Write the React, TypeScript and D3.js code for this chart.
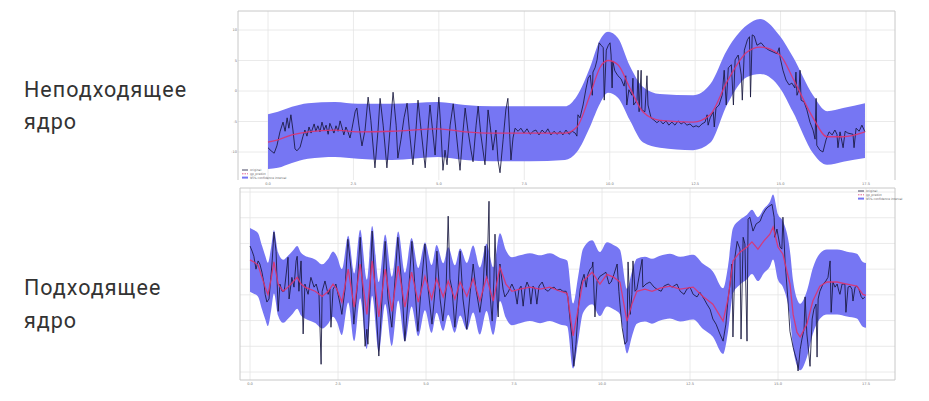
import React from 'react';
import * as d3 from 'd3';

// ---------- shared axis data ----------
const xTicks = [0, 2.5, 5, 7.5, 10, 12.5, 15, 17.5];
const xTickLabels = ['0.0', '2.5', '5.0', '7.5', '10.0', '12.5', '15.0', '17.5'];
const topYTicks = [10, 5, 0, -5, -10];
const bottomYTicks = [15, 10, 5, 0, -5, -10, -15, -20];
const legendLabels = ['original', 'gp_predict', '95% confidence interval'];
const topTitle = ['Неподходящее', 'ядро'];
const bottomTitle = ['Подходящее', 'ядро'];

// ---------- top panel (unsuitable kernel) ----------
const topGpX = [0, 0.29, 0.7, 1.17, 1.96, 2.63, 3.63, 4.98, 5.77, 6.56, 7.67, 8.69, 9.04, 9.42, 9.72, 9.95, 10.24, 10.59, 10.97, 11.47, 12.44, 12.94, 13.43, 14.02, 14.4, 14.98, 15.36, 15.95, 16.36, 16.83, 17.47];
const topMean = [-8.4, -8.0, -7.2, -6.7, -6.4, -6.7, -6.6, -6.2, -6.7, -6.9, -6.9, -6.9, -5.9, -0.7, 3.9, 5.0, 4.3, 0.5, -3.4, -4.8, -5.1, -3.9, 1.5, 6.4, 7.2, 5.9, 2.1, -4.4, -7.5, -7.5, -6.7];
const topUpper = [-3.8, -3.4, -2.6, -2.0, -1.8, -2.1, -2.1, -1.8, -2.3, -2.5, -2.5, -2.5, -0.8, 3.8, 8.4, 9.7, 8.7, 4.1, 0.7, -0.5, -0.7, 1.1, 6.7, 10.8, 11.8, 9.0, 5.6, -0.7, -3.3, -2.8, -2.0];
const topLower = [-12.8, -12.6, -11.8, -11.1, -10.8, -11.1, -11.3, -10.8, -11.3, -11.5, -11.5, -11.3, -10.0, -5.9, -2.0, -0.3, -1.1, -4.8, -8.4, -9.3, -9.7, -8.5, -2.3, 2.3, 2.8, 0.5, -3.4, -10.2, -12.1, -11.6, -11.0];

const topOrigX = [
  0, 0.09, 0.18, 0.26, 0.35, 0.44, 0.5, 0.56, 0.61, 0.67, 0.73, 0.79, 0.85, 0.94, 1.02, 1.08, 1.14, 1.2, 1.26, 1.35,
  1.4, 1.46, 1.52, 1.58, 1.64, 1.7, 1.76, 1.81, 1.87, 1.93, 1.99, 2.05, 2.11, 2.17, 2.22, 2.28, 2.34, 2.4, 2.46, 2.55,
  2.6, 2.66, 2.75, 2.84, 2.93, 3.01, 3.13, 3.22, 3.28, 3.37, 3.48, 3.57, 3.66, 3.75, 3.8, 3.89, 3.98, 4.07, 4.15, 4.24,
  4.33, 4.39, 4.48, 4.6, 4.68, 4.74, 4.83, 4.89, 4.95, 5.0, 5.06, 5.12, 5.18, 5.24, 5.33, 5.42, 5.5, 5.62, 5.71, 5.77,
  5.85, 5.94, 6.0, 6.09, 6.15, 6.23, 6.35, 6.44, 6.5, 6.58, 6.67, 6.73, 6.79, 6.88, 6.96, 7.02, 7.08, 7.11, 7.17, 7.23,
  7.32, 7.4, 7.49, 7.58, 7.67, 7.76, 7.84, 7.93, 8.02, 8.11, 8.19, 8.28, 8.37, 8.46, 8.55, 8.63, 8.72, 8.81, 8.9, 8.99,
  9.04, 9.07, 9.13, 9.22, 9.31, 9.37, 9.43, 9.49, 9.51, 9.57, 9.63, 9.69, 9.75, 9.81, 9.84, 9.9, 9.96, 10.01, 10.04, 10.07,
  10.09, 10.15, 10.24, 10.33, 10.42, 10.47, 10.5, 10.56, 10.65, 10.68, 10.7, 10.8, 10.83, 10.86, 10.92, 10.94, 11.03, 11.09, 11.12, 11.21,
  11.3, 11.38, 11.47, 11.56, 11.65, 11.73, 11.82, 11.91, 12.0, 12.09, 12.17, 12.26, 12.35, 12.44, 12.53, 12.61, 12.7, 12.79, 12.85, 12.88,
  12.94, 13.03, 13.06, 13.11, 13.2, 13.29, 13.35, 13.41, 13.47, 13.56, 13.62, 13.67, 13.76, 13.85, 13.88, 13.94, 14.03, 14.09, 14.12, 14.17,
  14.23, 14.31, 14.43, 14.55, 14.66, 14.78, 14.9, 14.96, 14.99, 15.07, 15.16, 15.25, 15.33, 15.42, 15.45, 15.48, 15.54, 15.57, 15.6, 15.69,
  15.77, 15.86, 15.95, 16.01, 16.04, 16.06, 16.15, 16.24, 16.33, 16.42, 16.51, 16.59, 16.65, 16.68, 16.74, 16.83, 16.89, 16.97, 17.12, 17.15,
  17.21, 17.3, 17.38, 17.47,
];
const topOrigY = [
  -9.3, -9.8, -10.2, -9.0, -6.7, -5.1, -6.6, -4.4, -6.1, -3.9, -6.4, -9.5, -9.8, -9.2, -7.5, -6.4, -7.4, -5.9, -6.9, -5.4,
  -6.6, -5.7, -6.7, -5.1, -6.4, -5.6, -7.1, -5.3, -6.1, -6.9, -5.7, -6.6, -4.9, -6.1, -7.2, -5.9, -6.7, -7.7, -6.1, -3.4,
  -2.8, -5.6, -9.0, -6.4, -1.0, -4.8, -12.6, -6.4, -1.2, -5.6, -12.6, -6.4, -0.2, -5.6, -11.0, -8.0, -4.4, -2.0, -7.2, -12.1,
  -6.4, -1.5, -6.4, -12.6, -6.4, -2.3, -7.2, -10.5, -4.8, -1.0, -6.4, -13.0, -9.7, -12.1, -5.6, -2.1, -6.4, -13.0, -6.4, -2.8,
  -6.4, -9.7, -11.6, -5.6, -2.5, -7.2, -12.1, -3.1, -5.6, -9.7, -6.4, -11.3, -13.4, -8.0, -3.1, -1.2, -8.0, -11.3, -7.7, -6.1,
  -6.6, -6.1, -6.9, -6.2, -7.1, -6.6, -6.4, -7.2, -6.4, -6.9, -6.2, -7.2, -6.6, -7.1, -6.6, -7.2, -6.4, -7.1, -6.6, -6.9,
  -7.4, -3.9, -4.4, -2.3, 0.5, 2.1, 2.6, -0.7, 3.1, 3.8, 5.1, 7.9, 7.5, 7.1, -1.5, 6.7, 7.5, 7.9, 5.9, 0.5,
  4.9, 3.3, 2.5, 2.0, 0.8, 2.5, -2.3, 0.2, -0.7, 2.1, -2.3, -1.5, 3.4, -3.4, 3.4, -3.1, -3.4, 2.5, -2.3, -4.4,
  -4.8, -5.2, -4.8, -5.4, -4.9, -5.6, -5.1, -5.6, -4.9, -5.4, -5.1, -5.6, -5.4, -5.9, -5.7, -5.9, -5.4, -5.1, -3.9, -5.6,
  -4.4, -3.4, -5.9, -2.8, -2.3, -0.7, 3.4, -2.3, 3.8, 4.3, -2.3, 5.1, 5.9, 2.6, -1.5, 6.7, 8.4, 8.9, -1.0, 9.2,
  9.0, 7.5, 7.9, 7.1, 6.7, 6.4, 6.1, 7.1, 5.4, 3.4, 1.8, 1.0, 1.3, 0.5, 3.1, -0.7, 0.2, 3.4, -1.5, -1.8,
  -3.1, -5.1, -6.4, -7.9, -1.2, -8.9, -9.7, -10.0, -8.0, -6.7, -7.2, -6.4, -7.1, -9.3, -6.7, -9.3, -6.6, -6.9, -7.1, -9.3,
  -6.1, -6.6, -5.6, -6.7,
];

// ---------- bottom panel (suitable kernel) ----------
const botGpX = [0, 0.11, 0.23, 0.34, 0.43, 0.51, 0.6, 0.68, 0.8, 0.94, 1.08, 1.22, 1.34, 1.45, 1.56, 1.7, 1.85, 2.05, 2.22, 2.36,
  2.47, 2.61, 2.79, 2.96, 3.13, 3.32, 3.47, 3.66, 3.84, 4.03, 4.21, 4.4, 4.59, 4.78, 4.97, 5.16, 5.3, 5.49, 5.63, 5.82,
  5.97, 6.16, 6.34, 6.53, 6.72, 6.91, 7.1, 7.27, 7.44, 7.67, 7.95, 8.24, 8.52, 8.81, 9.01, 9.18, 9.32, 9.46, 9.72, 9.94,
  10.14, 10.34, 10.51, 10.71, 10.85, 10.99, 11.22, 11.42, 11.65, 11.93, 12.22, 12.59, 12.87, 13.15, 13.44, 13.58, 13.72, 13.92, 14.12, 14.26,
  14.43, 14.6, 14.77, 14.86, 15.0, 15.14, 15.34, 15.43, 15.54, 15.63, 15.82, 15.99, 16.19, 16.39, 16.68, 16.96, 17.24, 17.41, 17.5];
const botMean = [1.8, 1.4, 0.8, -1.6, -3.5, -4.9, -1.9, 1.4, -2.9, -4.3, -3.5, -2.5, -1.6, -2.9, -3.5, -3.9, -4.3, -5.3, -4.3, -2.9,
  -3.9, -6.4, 0, -7.4, 1.0, -8.8, 1.6, -9.3, 0, -8.2, 0.6, -7.4, -0.6, -6.4, -1.4, -5.8, -1.9, -5.4, -2.3, -5.8,
  -2.5, -5.3, -1.9, -6.2, -1.6, -6.2, 0.4, -2.9, -4.3, -3.9, -3.5, -3.9, -3.5, -4.3, -4.7, -13.0, -7.8, -2.3, -0.6, -2.9,
  -1.0, -1.6, -2.5, -10.1, -6.8, -4.3, -3.9, -4.3, -3.7, -3.3, -3.9, -3.5, -5.3, -6.8, -10.1, -5.8, 1.6, 3.3, 4.3, 5.3,
  3.9, 5.5, 6.8, 8.2, 4.3, 2.9, -2.9, -8.8, -12.3, -13.2, -10.7, -6.2, -3.3, -2.5, -2.5, -2.9, -3.3, -4.9, -5.1];
const botHwX = [0, 1.5, 2.6, 3.5, 5.0, 6.5, 7.3, 8.5, 9.5, 11.0, 12.5, 13.5, 14.5, 15.5, 16.5, 17.5];
const botHw = [6.2, 6.1, 6.4, 6.8, 6.6, 6.5, 6.6, 6.6, 6.2, 6.3, 6.3, 6.4, 6.2, 6.5, 6.3, 6.3];

const botOrigX = [
  0, 0.06, 0.11, 0.17, 0.23, 0.28, 0.34, 0.4, 0.43, 0.48, 0.54, 0.6, 0.63, 0.68, 0.74, 0.8, 0.85, 0.91, 0.97, 0.99,
  1.08, 1.11, 1.19, 1.25, 1.31, 1.34, 1.39, 1.45, 1.51, 1.56, 1.65, 1.73, 1.82, 1.88, 1.96, 2.02, 2.05, 2.13, 2.22, 2.27,
  2.3, 2.36, 2.44, 2.5, 2.56, 2.61, 2.7, 2.78, 2.87, 2.95, 3.04, 3.13, 3.21, 3.27, 3.32, 3.35, 3.41, 3.47, 3.55, 3.66,
  3.75, 3.84, 3.92, 4.03, 4.12, 4.2, 4.32, 4.4, 4.49, 4.6, 4.69, 4.77, 4.86, 4.97, 5.06, 5.17, 5.26, 5.31, 5.4, 5.48,
  5.57, 5.63, 5.68, 5.74, 5.82, 5.91, 5.97, 6.05, 6.16, 6.25, 6.34, 6.42, 6.53, 6.62, 6.68, 6.73, 6.79, 6.82, 6.88, 6.93,
  6.96, 7.02, 7.05, 7.1, 7.19, 7.24, 7.33, 7.44, 7.53, 7.59, 7.64, 7.7, 7.76, 7.81, 7.87, 7.93, 7.98, 8.04, 8.1, 8.15,
  8.21, 8.3, 8.38, 8.47, 8.55, 8.64, 8.72, 8.81, 8.89, 8.98, 9.03, 9.09, 9.15, 9.2, 9.26, 9.32, 9.38, 9.43, 9.49, 9.55,
  9.6, 9.66, 9.72, 9.74, 9.8, 9.86, 9.94, 10.03, 10.11, 10.2, 10.26, 10.34, 10.43, 10.48, 10.51, 10.57, 10.65, 10.71, 10.74, 10.8,
  10.85, 10.88, 10.94, 10.99, 11.14, 11.16, 11.25, 11.36, 11.48, 11.56, 11.68, 11.76, 11.88, 11.99, 12.13, 12.22, 12.33, 12.41, 12.5, 12.59,
  12.7, 12.78, 12.9, 12.98, 13.07, 13.15, 13.24, 13.35, 13.44, 13.52, 13.58, 13.64, 13.69, 13.72, 13.78, 13.84, 13.92, 13.95, 14.01, 14.06,
  14.12, 14.15, 14.2, 14.29, 14.38, 14.49, 14.57, 14.66, 14.72, 14.83, 14.89, 14.91, 14.97, 15.06, 15.11, 15.14, 15.2, 15.28, 15.34, 15.43,
  15.48, 15.54, 15.57, 15.63, 15.68, 15.74, 15.77, 15.82, 15.85, 15.91, 15.97, 16.02, 16.08, 16.11, 16.14, 16.19, 16.28, 16.36, 16.42, 16.48,
  16.51, 16.56, 16.62, 16.68, 16.73, 16.76, 16.82, 16.9, 16.93, 16.99, 17.05, 17.1, 17.13, 17.19, 17.24, 17.3, 17.36, 17.41, 17.47,
];
const botOrigY = [
  4.5, 3.5, 2.5, 0, 1.6, 1.0, -0.6, -2.9, -4.9, -6.4, -5.8, -1.0, 1.6, 7.2, 3.5, -8.2, -2.9, -4.3, -4.3, -3.3,
  2.3, -5.8, -1.6, -3.5, 1.6, 2.5, -4.3, 1.6, -12.6, -2.9, -4.9, -1.6, -3.5, -2.9, -4.9, -18.5, -4.3, -2.3, -4.9, -3.9,
  -11.3, -3.9, -2.9, -4.9, -6.8, -8.8, -3.9, 5.8, 0, -10.7, -3.9, 6.2, -5.8, -15.0, -11.7, -14.6, -3.9, 7.4, -3.9, -16.9,
  -5.8, 5.4, -5.8, -11.3, -1.9, 6.2, -3.9, -14.0, -5.8, 5.4, -3.9, -12.1, -3.9, 4.9, -3.9, -10.7, -3.9, 3.5, -5.8, -10.1,
  -3.9, 10.3, -1.9, -3.9, -11.3, -3.9, 3.5, -5.8, -11.7, -4.9, 1.0, -3.9, -8.4, -3.9, 4.5, -1.9, 13.2, -4.9, -10.1, -1.9,
  6.8, -5.8, -9.3, 1.0, -3.9, -5.4, -4.5, -2.9, -4.3, -6.8, -3.9, -3.3, -7.2, -3.9, -2.5, -3.5, -6.8, -3.3, -3.9, -6.8,
  -3.3, -2.5, -3.9, -4.3, -3.7, -3.5, -4.1, -3.9, -4.3, -4.3, -5.4, -9.7, -13.6, -18.9, -14.6, -8.2, -3.9, -2.3, -1.0, -3.5,
  -1.0, 0, 0.4, 1.4, -9.3, -2.3, -1.4, -1.0, -0.6, -2.9, -2.5, -1.0, 1.0, -4.3, -6.8, -11.3, -14.6, -14.0, 1.4, -8.8,
  -4.9, 1.6, -4.3, -3.9, 1.9, -3.5, -2.9, -2.5, -3.5, -3.9, -4.3, -3.3, -2.9, -3.5, -2.9, -4.3, -4.9, -3.9, -3.5, -4.9,
  -5.4, -4.5, -5.8, -6.8, -7.8, -9.7, -10.7, -12.6, -14.0, -10.7, -5.8, -2.9, 1.0, -13.2, 2.5, 5.4, 3.9, -13.6, 6.2, 4.9,
  -14.0, 9.7, 10.1, 7.4, 8.8, 9.3, 10.7, 11.7, 12.1, 12.6, 10.1, 6.2, 7.8, 4.3, 3.9, 10.1, 1.6, -5.8, -12.1, -15.2,
  -16.5, -17.9, -19.8, -15.6, -13.6, -11.7, -5.4, -12.6, -14.6, -18.9, -9.7, -7.8, -6.8, -17.1, -5.8, -4.3, -2.9, -2.3, -1.6, 1.6,
  -8.4, -2.5, -3.5, -2.9, -4.3, -4.9, -2.9, -2.9, -8.4, -3.5, -3.3, -3.9, -6.2, -3.5, -3.3, -3.9, -5.3, -5.8, -5.4,
];

const BAND = '#7676f3';
const ORIG = '#17173d';
const PRED = '#dd3470';

type PanelProps = {
  left: number; top: number; right: number; bottom: number;
  xRange: [number, number]; yRange: [number, number]; yDomain: [number, number];
  yTicks: number[];
  gpX: number[]; mean: number[]; upper: number[]; lower: number[];
  origX: number[]; origY: number[];
  meanCurve: d3.CurveFactory;
  legendX: number; legendY: number;
  showYLabels: boolean;
  bottomLine: boolean;
};

function Panel(p: PanelProps) {
  const xs = d3.scaleLinear().domain([0, 17.5]).range(p.xRange);
  const ys = d3.scaleLinear().domain(p.yDomain).range(p.yRange);
  const gi = d3.range(p.gpX.length);
  const oi = d3.range(p.origX.length);
  const area = d3.area<number>()
    .x((i) => xs(p.gpX[i]))
    .y0((i) => ys(p.lower[i]))
    .y1((i) => ys(p.upper[i]))
    .curve(d3.curveMonotoneX);
  const meanLine = d3.line<number>().x((i) => xs(p.gpX[i])).y((i) => ys(p.mean[i])).curve(p.meanCurve);
  const origLine = d3.line<number>().x((i) => xs(p.origX[i])).y((i) => ys(p.origY[i]));
  const w = p.right - p.left;
  const h = p.bottom - p.top;
  return (
    <g>
      <rect x={p.left} y={p.top} width={w} height={h} fill="#fff" />
      {xTicks.map((t, i) => (
        <g key={'xt' + i}>
          <line x1={xs(t)} x2={xs(t)} y1={p.top} y2={p.bottom} stroke="#e4e4e4" strokeWidth={0.8} />
          <text x={xs(t)} y={p.bottom + 5} fontSize={3.6} fill="#777" textAnchor="middle" fontFamily="DejaVu Sans">{xTickLabels[i]}</text>
        </g>
      ))}
      {p.yTicks.map((t, i) => (
        <g key={'yt' + i}>
          <line x1={p.left} x2={p.right} y1={ys(t)} y2={ys(t)} stroke="#e4e4e4" strokeWidth={0.8} />
          {p.showYLabels && (
            <text x={p.left - 1} y={ys(t) + 1.2} fontSize={3.6} fill="#777" textAnchor="end" fontFamily="DejaVu Sans">{t}</text>
          )}
        </g>
      ))}
      <path d={area(gi) || ''} fill={BAND} />
      <path d={origLine(oi) || ''} fill="none" stroke={ORIG} strokeWidth={0.85} strokeLinejoin="round" />
      <path d={meanLine(gi) || ''} fill="none" stroke={PRED} strokeWidth={1.3} strokeOpacity={0.9} />
      <line x1={p.left} x2={p.right} y1={p.top} y2={p.top} stroke="#c8c8c8" strokeWidth={1} />
      <line x1={p.left} x2={p.left} y1={p.top} y2={p.bottom} stroke="#c8c8c8" strokeWidth={1} />
      <line x1={p.right} x2={p.right} y1={p.top} y2={p.bottom} stroke="#c8c8c8" strokeWidth={1} />
      {p.bottomLine && <line x1={p.left} x2={p.right} y1={p.bottom} y2={p.bottom} stroke="#c8c8c8" strokeWidth={1} />}
      <g transform={`translate(${p.legendX},${p.legendY})`}>
        {legendLabels.map((lab, i) => (
          <g key={lab} transform={`translate(0,${i * 3.8})`}>
            {i < 2 ? (
              <line x1={0} x2={6} y1={0} y2={0} stroke={i === 0 ? ORIG : PRED} strokeWidth={0.8} strokeDasharray={i === 1 ? '1.5,1' : undefined} />
            ) : (
              <rect x={0} y={-1} width={6} height={2} fill={BAND} />
            )}
            <text x={8} y={1} fontSize={3} fill="#666" fontFamily="DejaVu Sans">{lab}</text>
          </g>
        ))}
      </g>
    </g>
  );
}

export default function App() {
  const hwScale = d3.scaleLinear().domain(botHwX).range(botHw);
  const botUpper = botGpX.map((x, i) => botMean[i] + hwScale(x));
  const botLower = botGpX.map((x, i) => botMean[i] - hwScale(x));
  const titleStyle = { fontFamily: 'Roboto, Arial, sans-serif', fontSize: 21.5, letterSpacing: 1, fill: '#333' };
  return (
    <svg width={929} height={401} style={{ position: 'absolute', left: 0, top: 0, background: '#fff' }}>
      <rect x={0} y={0} width={929} height={401} fill="#fff" />
      <text x={24} y={97} {...titleStyle}>{topTitle[0]}</text>
      <text x={24} y={129} {...titleStyle}>{topTitle[1]}</text>
      <text x={24} y={295} {...titleStyle}>{bottomTitle[0]}</text>
      <text x={24} y={328} {...titleStyle}>{bottomTitle[1]}</text>
      <Panel
        left={238} top={11} right={895} bottom={180}
        xRange={[268, 866]} yRange={[152, 30]} yDomain={[-10, 10]} yTicks={topYTicks}
        gpX={topGpX} mean={topMean} upper={topUpper} lower={topLower}
        origX={topOrigX} origY={topOrigY} meanCurve={d3.curveMonotoneX}
        legendX={242} legendY={170} showYLabels={true} bottomLine={false}
      />
      <Panel
        left={240} top={188} right={895} bottom={380}
        xRange={[250, 866]} yRange={[372, 192]} yDomain={[-20, 15]} yTicks={bottomYTicks}
        gpX={botGpX} mean={botMean} upper={botUpper} lower={botLower}
        origX={botOrigX} origY={botOrigY} meanCurve={d3.curveLinear}
        legendX={858} legendY={191} showYLabels={false} bottomLine={true}
      />
    </svg>
  );
}
